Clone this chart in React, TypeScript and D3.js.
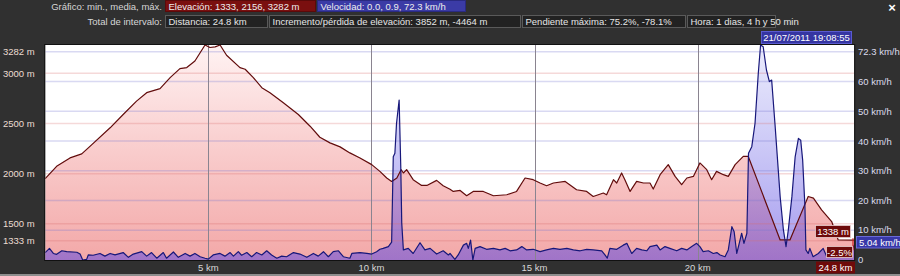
import React from 'react';
import * as d3 from 'd3';

// ---------- DATA ----------
// elevation profile: [distance km, elevation m]
const elevProfile: [number, number][] = [
  [0, 1950], [0.35, 2073], [0.76, 2157], [1.12, 2197], [1.43, 2290], [1.99, 2457], [2.39, 2590],
  [2.8, 2723], [3.11, 2807], [3.52, 2847], [3.83, 2957], [4.13, 3047], [4.34, 3057], [4.59, 3123],
  [4.9, 3282], [5.05, 3257], [5.21, 3263], [5.36, 3282], [5.56, 3180], [5.97, 3057], [6.13, 3040],
  [6.38, 2957], [6.64, 2857], [6.89, 2807], [7.3, 2707], [7.76, 2590], [8.12, 2473], [8.42, 2363],
  [8.73, 2307], [9.04, 2267], [9.34, 2207], [9.65, 2157], [10.01, 2090], [10.26, 2023], [10.47, 1957],
  [10.62, 1923], [10.78, 1957], [10.91, 2040], [10.98, 2007], [11.08, 2040], [11.28, 1940], [11.54, 1883],
  [11.7, 1883], [12.0, 1933], [12.2, 1880], [12.41, 1845], [12.51, 1823], [12.72, 1833], [12.92, 1780],
  [13.12, 1823], [13.43, 1823], [13.74, 1780], [14.15, 1790], [14.45, 1823], [14.71, 1957], [14.96, 1940],
  [15.17, 1907], [15.37, 1880], [15.58, 1907], [15.94, 1923], [16.29, 1840], [16.6, 1823], [16.8, 1773],
  [17.11, 1807], [17.21, 1790], [17.42, 1940], [17.52, 1907], [17.67, 2007], [17.77, 1940], [17.93, 1823],
  [18.13, 1923], [18.34, 1907], [18.54, 1907], [18.64, 1847], [18.85, 1990], [19.1, 2090], [19.31, 1973],
  [19.51, 1890], [19.67, 1957], [19.87, 1973], [20.07, 2107], [20.28, 2040], [20.43, 1940], [20.58, 2023],
  [20.79, 1990], [20.94, 1973], [21.15, 2090], [21.4, 2173], [21.55, 2173], [22.53, 1340], [22.83, 1340],
  [23.39, 1773], [23.55, 1757], [23.8, 1640], [24.11, 1523], [24.31, 1340], [24.8, 1338],
];

// speed profile: [distance km, speed km/h]
const speedProfile: [number, number][] = [
  [0, 2.5], [0.13, 3.9], [0.25, 2.2], [0.35, 1.9], [0.51, 3.1], [0.66, 2.8], [0.97, 2.6], [1.07, 2.0],
  [1.15, 0], [1.27, 0.2], [1.32, 1.7], [1.47, 1.6], [1.68, 2.2], [1.83, 1.3], [1.99, 2.2], [2.14, 1.7],
  [2.39, 2.5], [2.55, 0.9], [2.7, 2.0], [2.96, 2.8], [3.11, 1.3], [3.26, 2.5], [3.42, 0.6], [3.62, 2.5],
  [3.72, 0.6], [3.93, 2.7], [4.08, 0.9], [4.29, 2.2], [4.44, 1.3], [4.59, 2.2], [4.75, 1.1], [4.9, 0.6],
  [5.0, 0.3], [5.15, 1.7], [5.36, 2.2], [5.51, 1.3], [5.67, 2.5], [5.77, 1.3], [5.92, 2.8], [6.02, 1.6],
  [6.18, 2.5], [6.33, 1.1], [6.48, 2.5], [6.64, 1.7], [6.79, 3.1], [6.94, 1.7], [7.1, 0.6], [7.25, 1.3],
  [7.4, 1.1], [7.61, 2.5], [7.81, 2.0], [8.02, 0.9], [8.22, 2.2], [8.37, 1.3], [8.53, 2.8], [8.68, 1.1],
  [8.83, 2.8], [8.99, 3.1], [9.14, 1.1], [9.34, 0.6], [9.4, 2.2], [9.65, 2.5], [9.86, 2.2], [10.01, 2.0],
  [10.16, 2.8], [10.26, 3.6], [10.36, 3.9], [10.52, 4.5], [10.62, 6.0], [10.67, 34.7], [10.72, 35.9],
  [10.77, 46], [10.85, 53.8], [10.9, 31.4], [10.93, 12.4], [10.98, 3.4], [11.13, 3.9], [11.28, 2.2],
  [11.49, 5.8], [11.64, 3.4], [11.8, 3.9], [12.0, 2.0], [12.2, 3.1], [12.36, 1.7], [12.41, 2.2],
  [12.56, 0.2], [12.66, 1.7], [12.82, 5.0], [12.92, 5.6], [12.97, 3.9], [13.04, 6.7], [13.11, 0],
  [13.18, 3.9], [13.33, 4.5], [13.53, 3.6], [13.74, 3.9], [13.94, 3.4], [14.1, 3.9], [14.25, 3.1],
  [14.45, 3.4], [14.61, 4.5], [14.76, 3.4], [14.96, 3.6], [15.17, 2.8], [15.37, 3.4], [15.58, 3.9],
  [15.78, 3.6], [15.99, 3.9], [16.19, 3.4], [16.4, 3.1], [16.6, 3.6], [16.8, 3.4], [17.06, 3.1],
  [17.16, 1.7], [17.23, 0.6], [17.31, 3.9], [17.52, 3.6], [17.72, 5.0], [17.83, 5.6], [17.98, 2.2],
  [18.13, 3.9], [18.29, 3.4], [18.44, 3.1], [18.54, 4.5], [18.75, 5.0], [18.85, 3.4], [19.0, 4.5],
  [19.15, 3.9], [19.36, 3.1], [19.51, 3.9], [19.67, 3.4], [19.82, 4.5], [19.97, 5.6], [20.07, 4.5],
  [20.17, 2.8], [20.33, 3.1], [20.48, 2.2], [20.59, 2.5], [20.69, 1.7], [20.84, 1.1], [20.94, 3.4],
  [21.05, 11.2], [21.12, 9.5], [21.2, 2.2], [21.3, 6.7], [21.35, 9.0], [21.42, 5.6], [21.51, 9.0],
  [21.56, 35.9], [21.66, 38.1], [21.76, 46], [21.86, 62.8], [21.93, 72.3], [22.01, 71.7], [22.11, 63.9],
  [22.2, 60], [22.27, 60.5], [22.37, 46], [22.53, 21.3], [22.63, 10.1], [22.71, 4.5], [22.78, 10.1],
  [22.89, 21.3], [22.99, 34.7], [23.09, 40.9], [23.16, 40.3], [23.22, 33.6], [23.29, 17.9], [23.32, 3.4],
  [23.39, 2.2], [23.44, 3.9], [23.54, 1.1], [23.7, 2.2], [23.85, 3.9], [23.96, 1.1], [24.16, 1.7],
  [24.37, 2.2], [24.52, 3.4], [24.67, 2.2], [24.8, 5.04],
];

const elevGridTicks = [1333, 1500, 2000, 2500, 3000];
const elevLabelTicks = [3282, 3000, 2500, 2000, 1500, 1333];
const speedGridTicks = [10, 20, 30, 40, 50, 60, 70];
const speedLabelTicks = [72.3, 60, 50, 40, 30, 20, 10, 0];
const distTicks = [5, 10, 15, 20];

const row1Label = 'Gráfico: min., media, máx.';
const row1Boxes = ['Elevación: 1333, 2156, 3282 m', 'Velocidad: 0.0, 0.9, 72.3 km/h'];
const row2Label = 'Total de intervalo:';
const row2Boxes = [
  'Distancia: 24.8 km',
  'Incremento/pérdida de elevación: 3852 m, -4464 m',
  'Pendiente máxima: 75.2%, -78.1%',
  'Hora: 1 dias, 4 h y 50 min',
];
const cursorTime = '21/07/2011 19:08:55';
const cursorElev = 1338;
const cursorSlope = -2.5;
const cursorSpeed = 5.04;
const totalKm = 24.8;
const elevMin = 1140;
const elevMax = 3282;
const speedMax = 72.3;

// ---------- LAYOUT ----------
const W = 900;
const H = 276;
const L = 45.2;
const R = 854.2;
const T = 45;
const B = 260;
const FONT = '"Liberation Sans", Arial, sans-serif';

const row1Layout = [
  { x: 165, w: 150, fill: '#7a0f0f', stroke: '#5a0a0a' },
  { x: 317, w: 148, fill: '#3b3ba6', stroke: '#2a2a80' },
];
const row2Layout = [
  { x: 165, w: 102 },
  { x: 269, w: 251 },
  { x: 522, w: 163 },
  { x: 687, w: 88 },
];

export default function App() {
  const x = d3.scaleLinear().domain([0, totalKm]).range([L, R]);
  const yE = d3.scaleLinear().domain([elevMin, elevMax]).range([B, T]);
  const yS = d3.scaleLinear().domain([0, speedMax]).range([B, T]);

  const elevArea = d3.area<[number, number]>().x(d => x(d[0])).y0(B).y1(d => yE(d[1]))(elevProfile) || '';
  const elevLine = d3.line<[number, number]>().x(d => x(d[0])).y(d => yE(d[1]))(elevProfile) || '';
  const speedArea = d3.area<[number, number]>().x(d => x(d[0])).y0(B).y1(d => yS(d[1]))(speedProfile) || '';
  const speedLine = d3.line<[number, number]>().x(d => x(d[0])).y(d => yS(d[1]))(speedProfile) || '';

  const fmtSpeed = (v: number) => (v === 0 ? '0' : `${v} km/h`);
  const speedLabelY = (v: number) => {
    if (v === speedMax) return yS(v) + 9.5;
    if (v === 0) return yS(v) + 2.5;
    if (v === 10) return yS(v) + 2.8;
    return yS(v) + 3.5;
  };

  return (
    <svg
      width={W}
      height={H}
      style={{ position: 'fixed', left: 0, top: 0, display: 'block' }}
      fontFamily={FONT}
    >
      <defs>
        <linearGradient id="elevGrad" gradientUnits="userSpaceOnUse" x1={0} y1={T} x2={0} y2={B}>
          <stop offset="0" stopColor="#fff3f3" />
          <stop offset="0.5" stopColor="#f9cccc" />
          <stop offset="1" stopColor="#f3a8a8" />
        </linearGradient>
        <linearGradient id="speedGrad" gradientUnits="userSpaceOnUse" x1={0} y1={T} x2={0} y2={B}>
          <stop offset="0" stopColor="rgb(110,110,235)" stopOpacity={0.14} />
          <stop offset="1" stopColor="rgb(95,75,225)" stopOpacity={0.56} />
        </linearGradient>
        <clipPath id="plotClip">
          <rect x={L} y={T} width={R - L} height={B - T} />
        </clipPath>
      </defs>

      <rect x={0} y={0} width={W} height={H} fill="#303030" />
      <rect x={0} y={274} width={W} height={2} fill="#8e8e8e" />

      {/* header */}
      <text x={162} y={10} textAnchor="end" fontSize={9.5} fill="#d6d6d6">{row1Label}</text>
      {row1Boxes.map((t, i) => (
        <g key={t}>
          <rect x={row1Layout[i].x + 0.5} y={0.5} width={row1Layout[i].w} height={11} fill={row1Layout[i].fill} stroke={row1Layout[i].stroke} />
          <text x={row1Layout[i].x + 3.5} y={10} fontSize={9.5} fill="#eeeeee">{t}</text>
        </g>
      ))}
      <text x={162} y={25} textAnchor="end" fontSize={9.5} fill="#d6d6d6">{row2Label}</text>
      {row2Boxes.map((t, i) => (
        <g key={t}>
          <rect x={row2Layout[i].x + 0.5} y={15.5} width={row2Layout[i].w} height={12} fill="#222222" stroke="#5a5a5a" />
          <text x={row2Layout[i].x + 3.5} y={25} fontSize={9.5} fill="#e6e6e6">{t}</text>
        </g>
      ))}
      <text x={892} y={12} textAnchor="middle" fontSize={13} fontWeight="bold" fill="#ffffff">×</text>

      {/* plot */}
      <rect x={L} y={T} width={R - L} height={B - T} fill="#ffffff" />
      <g clipPath="url(#plotClip)">
        <path d={elevArea} fill="url(#elevGrad)" />
        <path d={speedArea} fill="url(#speedGrad)" />
        {speedGridTicks.map(v => (
          <line key={'s' + v} x1={L} x2={R} y1={yS(v)} y2={yS(v)} stroke="rgb(120,120,210)" strokeOpacity={0.28} strokeWidth={1.5} />
        ))}
        {elevGridTicks.map(v => (
          <line key={'e' + v} x1={L} x2={R} y1={yE(v)} y2={yE(v)} stroke="rgb(215,110,110)" strokeOpacity={0.26} strokeWidth={1.5} />
        ))}
        {distTicks.map(v => (
          <line key={'d' + v} x1={Math.round(x(v)) + 0.5} x2={Math.round(x(v)) + 0.5} y1={T} y2={B} stroke="#8a8490" strokeWidth={1} />
        ))}
        <path d={elevLine} fill="none" stroke="#620c0c" strokeWidth={1.2} strokeLinejoin="round" />
        <path d={speedLine} fill="none" stroke="#17177a" strokeWidth={1.2} strokeLinejoin="round" />
      </g>
      <rect x={L - 0.5} y={T - 0.5} width={R - L + 1} height={B - T + 1} fill="none" stroke="#111111" />

      {/* left axis labels */}
      {elevLabelTicks.map(v => (
        <text key={'el' + v} x={3} y={(v === elevMax ? yE(v) + 6 : yE(v)) + 3.5} fontSize={9.5} fill="#ecdcd2">{`${v} m`}</text>
      ))}

      {/* right axis labels */}
      {speedLabelTicks.map(v => (
        <text key={'sl' + v} x={858} y={speedLabelY(v)} fontSize={9.5} fill="#dcdcec">{fmtSpeed(v)}</text>
      ))}

      {/* bottom axis labels */}
      {distTicks.map(v => (
        <text key={'dl' + v} x={x(v)} y={271} textAnchor="middle" fontSize={9.5} fill="#d8d8d8">{`${v} km`}</text>
      ))}

      {/* cursor annotations */}
      <rect x={761.5} y={31.5} width={90} height={12} fill="#3535a2" stroke="#5a5ad0" />
      <text x={806.5} y={41} textAnchor="middle" fontSize={9.5} fill="#ffffff">{cursorTime}</text>

      <line x1={853} x2={853} y1={yE(cursorElev) - 2} y2={yE(cursorElev) + 10} stroke="#cc2020" strokeWidth={1.2} />

      <rect x={815.5} y={225.5} width={35} height={12} fill="#6e0a0a" stroke="#e8d0d0" strokeWidth={0.8} />
      <text x={833} y={235} textAnchor="middle" fontSize={9.5} fill="#ffffff">{`${cursorElev} m`}</text>

      <rect x={826.5} y={246.5} width={26} height={11} fill="#6e0a0a" stroke="#e8d0d0" strokeWidth={0.8} />
      <text x={839.5} y={255.5} textAnchor="middle" fontSize={9.5} fill="#ffffff">{`${cursorSlope}%`}</text>

      <rect x={856.5} y={236.5} width={44} height={11.5} fill="#3838a8" stroke="#6a6ad8" />
      <text x={859} y={245.5} fontSize={9.5} fill="#ffffff">{`${cursorSpeed} km/h`}</text>

      <rect x={816} y={261.5} width={39} height={12} fill="#6e0a0a" />
      <text x={835.5} y={271} textAnchor="middle" fontSize={9.5} fill="#ffffff">{`${totalKm} km`}</text>
    </svg>
  );
}
